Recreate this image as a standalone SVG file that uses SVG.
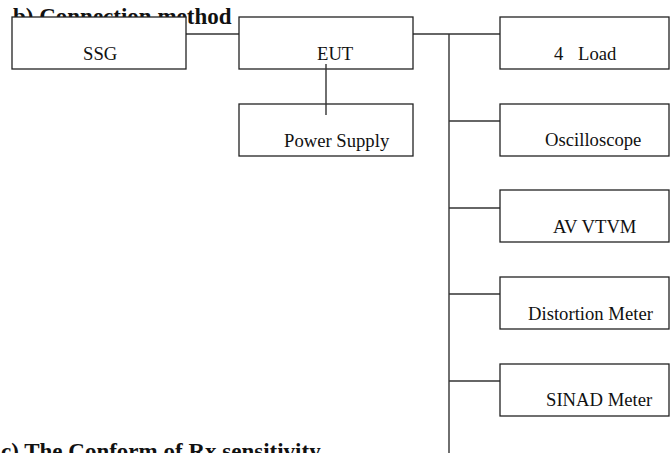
<svg xmlns="http://www.w3.org/2000/svg" width="671" height="453" viewBox="0 0 671 453">
<style>
.box{fill:#fff;stroke:#222;stroke-width:1.3}
.lbl{font-family:"Liberation Serif","Times New Roman",serif;font-size:18.67px;fill:#111}
.ttl{font-family:"Liberation Serif","Times New Roman",serif;font-size:23px;font-weight:bold;fill:#111}
.wire{stroke:#333;stroke-width:1.4;fill:none}
</style>
<rect width="671" height="453" fill="#fff"/>
<text class="ttl" x="13" y="24">b) Connection method</text>
<text class="ttl" x="1" y="459">c) The Conform of Rx sensitivity</text>
<g id="connectors">
<line class="wire" x1="186" y1="34" x2="239" y2="34"/>
<line class="wire" x1="413" y1="34" x2="500" y2="34"/>
<line class="wire" x1="449" y1="34" x2="449" y2="453"/>
<line class="wire" x1="449" y1="121" x2="500" y2="121"/>
<line class="wire" x1="449" y1="208" x2="500" y2="208"/>
<line class="wire" x1="449" y1="294" x2="500" y2="294"/>
<line class="wire" x1="449" y1="381" x2="500" y2="381"/>
</g>
<g id="ssg"><rect class="box" x="12" y="17" width="174" height="52"/><text class="lbl" x="83" y="59.5">SSG</text></g>
<g id="eut"><rect class="box" x="239" y="17" width="174" height="52"/><text class="lbl" x="317" y="59.5">EUT</text></g>
<g id="power-supply"><rect class="box" x="239" y="104" width="174" height="52"/><text class="lbl" x="284" y="146.5">Power Supply</text></g>
<g id="connectors-eut-ps"><line class="wire" x1="326" y1="64" x2="326" y2="115"/></g>
<g id="load"><rect class="box" x="500" y="17" width="169" height="52"/><text class="lbl" y="59.5"><tspan x="554">4</tspan><tspan x="578">Load</tspan></text></g>
<g id="oscilloscope"><rect class="box" x="500" y="104" width="169" height="52"/><text class="lbl" x="545" y="146">Oscilloscope</text></g>
<g id="av-vtvm"><rect class="box" x="500" y="190" width="169" height="52"/><text class="lbl" x="553" y="232.5">AV VTVM</text></g>
<g id="distortion-meter"><rect class="box" x="500" y="277" width="169" height="52"/><text class="lbl" x="528" y="319.5">Distortion Meter</text></g>
<g id="sinad-meter"><rect class="box" x="500" y="364" width="169" height="52"/><text class="lbl" x="546" y="406">SINAD Meter</text></g>
</svg>
